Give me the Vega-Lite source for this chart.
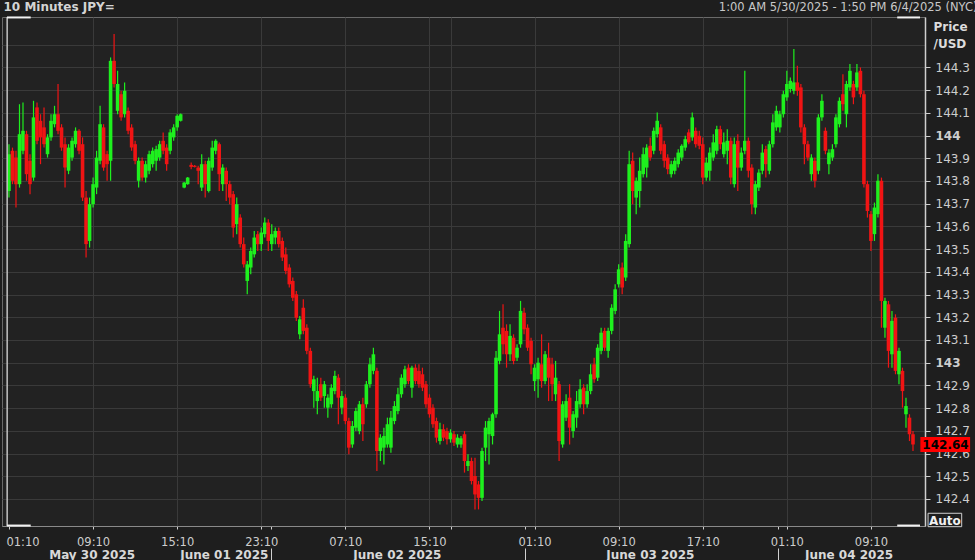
{
"$schema": "https://vega.github.io/schema/vega-lite/v6.json",
"width": 923, "height": 509,
"autosize": {"type": "none"},
"padding": {"left": 2, "top": 17, "right": 50, "bottom": 34},
"background": "#1e1e1e",
"config": {
  "view": {"fill": "#222222", "stroke": "#6a6a6a", "strokeWidth": 1},
  "axis": {"labelOverlap": false, "labelBound": false, "labelFlush": false}
},
"datasets": {"one": [{}]},
"data": {"values": [
{"i":0,"o":143.756,"h":143.962,"l":143.727,"c":143.918},
{"i":1,"o":143.933,"h":143.947,"l":143.786,"c":143.801},
{"i":2,"o":143.903,"h":143.933,"l":143.683,"c":143.786},
{"i":3,"o":143.786,"h":144.138,"l":143.771,"c":144.006},
{"i":4,"o":143.933,"h":144.146,"l":143.918,"c":144.021},
{"i":5,"o":144.006,"h":144.021,"l":143.801,"c":143.830},
{"i":6,"o":143.889,"h":143.918,"l":143.742,"c":143.786},
{"i":7,"o":143.815,"h":144.153,"l":143.801,"c":144.080},
{"i":8,"o":144.124,"h":144.146,"l":143.962,"c":143.977},
{"i":9,"o":144.065,"h":144.094,"l":143.874,"c":143.992},
{"i":10,"o":144.036,"h":144.124,"l":143.947,"c":143.962},
{"i":11,"o":143.918,"h":144.006,"l":143.903,"c":143.992},
{"i":12,"o":143.992,"h":144.094,"l":143.977,"c":144.065},
{"i":13,"o":144.050,"h":144.131,"l":144.036,"c":144.094},
{"i":14,"o":144.094,"h":144.227,"l":144.006,"c":144.021},
{"i":15,"o":144.036,"h":144.050,"l":143.933,"c":143.947},
{"i":16,"o":143.962,"h":143.992,"l":143.771,"c":143.859},
{"i":17,"o":143.845,"h":143.962,"l":143.830,"c":143.947},
{"i":18,"o":143.903,"h":143.992,"l":143.889,"c":143.977},
{"i":19,"o":143.962,"h":144.036,"l":143.947,"c":144.021},
{"i":20,"o":144.021,"h":144.028,"l":143.918,"c":143.933},
{"i":21,"o":143.962,"h":143.992,"l":143.712,"c":143.727},
{"i":22,"o":143.727,"h":143.756,"l":143.463,"c":143.522},
{"i":23,"o":143.536,"h":143.727,"l":143.507,"c":143.698},
{"i":24,"o":143.698,"h":143.815,"l":143.683,"c":143.786},
{"i":25,"o":143.771,"h":143.933,"l":143.742,"c":143.903},
{"i":26,"o":143.889,"h":144.131,"l":143.874,"c":144.050},
{"i":27,"o":144.036,"h":144.050,"l":143.845,"c":143.859},
{"i":28,"o":143.918,"h":143.933,"l":143.801,"c":143.874},
{"i":29,"o":143.889,"h":144.344,"l":143.801,"c":144.329},
{"i":30,"o":144.329,"h":144.447,"l":144.212,"c":144.227},
{"i":31,"o":144.109,"h":144.285,"l":144.094,"c":144.227},
{"i":32,"o":144.182,"h":144.197,"l":144.065,"c":144.080},
{"i":33,"o":144.094,"h":144.234,"l":144.080,"c":144.197},
{"i":34,"o":144.109,"h":144.124,"l":144.006,"c":144.021},
{"i":35,"o":144.036,"h":144.050,"l":143.933,"c":143.947},
{"i":36,"o":143.962,"h":143.977,"l":143.874,"c":143.889},
{"i":37,"o":143.801,"h":143.903,"l":143.771,"c":143.889},
{"i":38,"o":143.889,"h":143.903,"l":143.801,"c":143.815},
{"i":39,"o":143.815,"h":143.889,"l":143.793,"c":143.874},
{"i":40,"o":143.845,"h":143.933,"l":143.830,"c":143.918},
{"i":41,"o":143.874,"h":143.947,"l":143.859,"c":143.933},
{"i":42,"o":143.889,"h":143.955,"l":143.845,"c":143.940},
{"i":43,"o":143.903,"h":143.977,"l":143.889,"c":143.962},
{"i":44,"o":143.977,"h":144.014,"l":143.918,"c":143.933},
{"i":45,"o":143.947,"h":143.962,"l":143.845,"c":143.874},
{"i":46,"o":143.933,"h":144.028,"l":143.918,"c":144.014},
{"i":47,"o":143.992,"h":144.050,"l":143.977,"c":144.036},
{"i":48,"o":144.036,"h":144.094,"l":144.021,"c":144.087},
{"i":49,"o":144.065,"h":144.097,"l":144.062,"c":144.094},
{"i":50,"o":143.771,"h":143.796,"l":143.768,"c":143.793},
{"i":51,"o":143.786,"h":143.818,"l":143.783,"c":143.815},
{"i":52,"o":143.871,"h":143.881,"l":143.852,"c":143.862},
{"i":53,"o":143.867,"h":143.870,"l":143.859,"c":143.862},
{"i":54,"o":143.859,"h":143.867,"l":143.786,"c":143.845},
{"i":55,"o":143.771,"h":143.918,"l":143.756,"c":143.874},
{"i":56,"o":143.874,"h":143.889,"l":143.727,"c":143.786},
{"i":57,"o":143.756,"h":143.903,"l":143.749,"c":143.889},
{"i":58,"o":143.859,"h":143.977,"l":143.845,"c":143.947},
{"i":59,"o":143.933,"h":143.984,"l":143.918,"c":143.977},
{"i":60,"o":143.962,"h":143.970,"l":143.756,"c":143.830},
{"i":61,"o":143.786,"h":143.874,"l":143.756,"c":143.859},
{"i":62,"o":143.845,"h":143.859,"l":143.712,"c":143.786},
{"i":63,"o":143.786,"h":143.801,"l":143.698,"c":143.727},
{"i":64,"o":143.742,"h":143.756,"l":143.551,"c":143.595},
{"i":65,"o":143.610,"h":143.727,"l":143.566,"c":143.698},
{"i":66,"o":143.639,"h":143.654,"l":143.507,"c":143.522},
{"i":67,"o":143.522,"h":143.551,"l":143.419,"c":143.433},
{"i":68,"o":143.360,"h":143.448,"l":143.301,"c":143.433},
{"i":69,"o":143.419,"h":143.507,"l":143.389,"c":143.492},
{"i":70,"o":143.477,"h":143.580,"l":143.463,"c":143.551},
{"i":71,"o":143.566,"h":143.580,"l":143.492,"c":143.522},
{"i":72,"o":143.522,"h":143.595,"l":143.492,"c":143.573},
{"i":73,"o":143.566,"h":143.639,"l":143.551,"c":143.617},
{"i":74,"o":143.617,"h":143.632,"l":143.492,"c":143.536},
{"i":75,"o":143.522,"h":143.610,"l":143.492,"c":143.566},
{"i":76,"o":143.551,"h":143.595,"l":143.522,"c":143.580},
{"i":77,"o":143.580,"h":143.595,"l":143.507,"c":143.522},
{"i":78,"o":143.536,"h":143.551,"l":143.448,"c":143.463},
{"i":79,"o":143.477,"h":143.507,"l":143.389,"c":143.404},
{"i":80,"o":143.419,"h":143.433,"l":143.331,"c":143.345},
{"i":81,"o":143.360,"h":143.375,"l":143.272,"c":143.286},
{"i":82,"o":143.301,"h":143.316,"l":143.184,"c":143.198},
{"i":83,"o":143.125,"h":143.206,"l":143.103,"c":143.191},
{"i":84,"o":143.242,"h":143.279,"l":143.125,"c":143.140},
{"i":85,"o":143.154,"h":143.169,"l":143.037,"c":143.052},
{"i":86,"o":143.052,"h":143.066,"l":142.890,"c":142.905},
{"i":87,"o":142.875,"h":142.942,"l":142.802,"c":142.927},
{"i":88,"o":142.831,"h":142.934,"l":142.773,"c":142.875},
{"i":89,"o":142.905,"h":142.934,"l":142.831,"c":142.846},
{"i":90,"o":142.853,"h":142.919,"l":142.802,"c":142.905},
{"i":91,"o":142.802,"h":142.861,"l":142.758,"c":142.846},
{"i":92,"o":142.817,"h":142.905,"l":142.802,"c":142.890},
{"i":93,"o":142.875,"h":142.964,"l":142.861,"c":142.942},
{"i":94,"o":142.934,"h":142.949,"l":142.729,"c":142.846},
{"i":95,"o":142.802,"h":142.875,"l":142.773,"c":142.853},
{"i":96,"o":142.846,"h":142.861,"l":142.729,"c":142.743},
{"i":97,"o":142.743,"h":142.758,"l":142.597,"c":142.626},
{"i":98,"o":142.640,"h":142.743,"l":142.626,"c":142.721},
{"i":99,"o":142.714,"h":142.802,"l":142.699,"c":142.787},
{"i":100,"o":142.699,"h":142.831,"l":142.685,"c":142.817},
{"i":101,"o":142.817,"h":142.846,"l":142.655,"c":142.729},
{"i":102,"o":142.817,"h":142.919,"l":142.802,"c":142.905},
{"i":103,"o":142.905,"h":143.022,"l":142.890,"c":142.993},
{"i":104,"o":142.964,"h":143.066,"l":142.949,"c":143.037},
{"i":105,"o":142.964,"h":142.978,"l":142.523,"c":142.611},
{"i":106,"o":142.611,"h":142.685,"l":142.567,"c":142.670},
{"i":107,"o":142.626,"h":142.714,"l":142.552,"c":142.677},
{"i":108,"o":142.640,"h":142.758,"l":142.626,"c":142.729},
{"i":109,"o":142.626,"h":142.787,"l":142.604,"c":142.758},
{"i":110,"o":142.743,"h":142.831,"l":142.729,"c":142.809},
{"i":111,"o":142.787,"h":142.890,"l":142.773,"c":142.861},
{"i":112,"o":142.861,"h":142.949,"l":142.846,"c":142.934},
{"i":113,"o":142.905,"h":142.986,"l":142.890,"c":142.971},
{"i":114,"o":142.978,"h":142.993,"l":142.905,"c":142.919},
{"i":115,"o":142.890,"h":142.986,"l":142.846,"c":142.978},
{"i":116,"o":142.978,"h":142.993,"l":142.905,"c":142.919},
{"i":117,"o":142.964,"h":142.993,"l":142.890,"c":142.905},
{"i":118,"o":142.949,"h":142.978,"l":142.875,"c":142.890},
{"i":119,"o":142.905,"h":142.919,"l":142.802,"c":142.817},
{"i":120,"o":142.846,"h":142.861,"l":142.758,"c":142.773},
{"i":121,"o":142.802,"h":142.817,"l":142.714,"c":142.729},
{"i":122,"o":142.743,"h":142.758,"l":142.648,"c":142.670},
{"i":123,"o":142.655,"h":142.736,"l":142.640,"c":142.707},
{"i":124,"o":142.707,"h":142.729,"l":142.655,"c":142.670},
{"i":125,"o":142.699,"h":142.714,"l":142.640,"c":142.663},
{"i":126,"o":142.663,"h":142.707,"l":142.648,"c":142.692},
{"i":127,"o":142.685,"h":142.699,"l":142.633,"c":142.648},
{"i":128,"o":142.640,"h":142.685,"l":142.626,"c":142.670},
{"i":129,"o":142.640,"h":142.677,"l":142.626,"c":142.667},
{"i":130,"o":142.685,"h":142.699,"l":142.516,"c":142.567},
{"i":131,"o":142.545,"h":142.597,"l":142.523,"c":142.567},
{"i":132,"o":142.567,"h":142.582,"l":142.464,"c":142.479},
{"i":133,"o":142.501,"h":142.582,"l":142.354,"c":142.420},
{"i":134,"o":142.464,"h":142.479,"l":142.354,"c":142.405},
{"i":135,"o":142.405,"h":142.626,"l":142.391,"c":142.611},
{"i":136,"o":142.626,"h":142.743,"l":142.567,"c":142.714},
{"i":137,"o":142.685,"h":142.758,"l":142.552,"c":142.743},
{"i":138,"o":142.677,"h":142.780,"l":142.640,"c":142.773},
{"i":139,"o":142.773,"h":143.052,"l":142.758,"c":143.022},
{"i":140,"o":143.008,"h":143.228,"l":142.993,"c":143.125},
{"i":141,"o":143.154,"h":143.257,"l":143.037,"c":143.081},
{"i":142,"o":143.140,"h":143.169,"l":142.978,"c":143.037},
{"i":143,"o":143.037,"h":143.169,"l":143.008,"c":143.118},
{"i":144,"o":143.110,"h":143.125,"l":142.993,"c":143.008},
{"i":145,"o":143.022,"h":143.081,"l":143.008,"c":143.066},
{"i":146,"o":143.081,"h":143.272,"l":143.066,"c":143.228},
{"i":147,"o":143.220,"h":143.242,"l":143.125,"c":143.147},
{"i":148,"o":143.154,"h":143.169,"l":143.052,"c":143.066},
{"i":149,"o":143.096,"h":143.110,"l":142.949,"c":142.993},
{"i":150,"o":142.919,"h":142.993,"l":142.875,"c":142.978},
{"i":151,"o":142.927,"h":143.022,"l":142.846,"c":143.000},
{"i":152,"o":142.993,"h":143.125,"l":142.890,"c":142.919},
{"i":153,"o":142.919,"h":143.052,"l":142.905,"c":143.037},
{"i":154,"o":143.022,"h":143.088,"l":142.831,"c":142.934},
{"i":155,"o":142.993,"h":143.022,"l":142.831,"c":142.905},
{"i":156,"o":142.861,"h":143.008,"l":142.831,"c":142.934},
{"i":157,"o":142.905,"h":142.919,"l":142.567,"c":142.655},
{"i":158,"o":142.640,"h":142.831,"l":142.626,"c":142.817},
{"i":159,"o":142.758,"h":142.861,"l":142.743,"c":142.831},
{"i":160,"o":142.846,"h":142.905,"l":142.640,"c":142.714},
{"i":161,"o":142.699,"h":142.787,"l":142.670,"c":142.773},
{"i":162,"o":142.758,"h":142.875,"l":142.714,"c":142.831},
{"i":163,"o":142.817,"h":142.927,"l":142.802,"c":142.883},
{"i":164,"o":142.890,"h":142.905,"l":142.773,"c":142.817},
{"i":165,"o":142.817,"h":142.905,"l":142.802,"c":142.875},
{"i":166,"o":142.875,"h":142.993,"l":142.861,"c":142.949},
{"i":167,"o":142.993,"h":143.022,"l":142.912,"c":142.927},
{"i":168,"o":142.934,"h":143.081,"l":142.919,"c":143.066},
{"i":169,"o":143.052,"h":143.154,"l":143.037,"c":143.132},
{"i":170,"o":143.140,"h":143.154,"l":143.052,"c":143.066},
{"i":171,"o":143.052,"h":143.154,"l":143.022,"c":143.140},
{"i":172,"o":143.140,"h":143.257,"l":143.125,"c":143.242},
{"i":173,"o":143.228,"h":143.345,"l":143.213,"c":143.323},
{"i":174,"o":143.345,"h":143.433,"l":143.331,"c":143.411},
{"i":175,"o":143.419,"h":143.441,"l":143.301,"c":143.331},
{"i":176,"o":143.375,"h":143.566,"l":143.360,"c":143.536},
{"i":177,"o":143.522,"h":143.933,"l":143.507,"c":143.874},
{"i":178,"o":143.889,"h":143.925,"l":143.698,"c":143.756},
{"i":179,"o":143.727,"h":143.815,"l":143.654,"c":143.801},
{"i":180,"o":143.756,"h":143.903,"l":143.683,"c":143.845},
{"i":181,"o":143.830,"h":143.947,"l":143.815,"c":143.918},
{"i":182,"o":143.859,"h":143.962,"l":143.815,"c":143.947},
{"i":183,"o":143.955,"h":143.992,"l":143.889,"c":143.903},
{"i":184,"o":143.933,"h":144.036,"l":143.918,"c":144.021},
{"i":185,"o":144.006,"h":144.102,"l":143.992,"c":144.065},
{"i":186,"o":144.036,"h":144.050,"l":143.918,"c":143.933},
{"i":187,"o":143.962,"h":143.977,"l":143.859,"c":143.889},
{"i":188,"o":143.903,"h":143.918,"l":143.830,"c":143.852},
{"i":189,"o":143.830,"h":143.889,"l":143.815,"c":143.874},
{"i":190,"o":143.845,"h":143.903,"l":143.830,"c":143.889},
{"i":191,"o":143.874,"h":143.940,"l":143.859,"c":143.925},
{"i":192,"o":143.903,"h":143.962,"l":143.889,"c":143.955},
{"i":193,"o":143.947,"h":143.999,"l":143.933,"c":143.984},
{"i":194,"o":144.014,"h":144.028,"l":143.962,"c":143.970},
{"i":195,"o":143.992,"h":144.102,"l":143.977,"c":144.080},
{"i":196,"o":144.021,"h":144.036,"l":143.947,"c":143.962},
{"i":197,"o":143.999,"h":144.021,"l":143.940,"c":143.955},
{"i":198,"o":143.962,"h":143.992,"l":143.786,"c":143.815},
{"i":199,"o":143.815,"h":143.903,"l":143.801,"c":143.881},
{"i":200,"o":143.845,"h":143.947,"l":143.801,"c":143.925},
{"i":201,"o":143.903,"h":144.006,"l":143.889,"c":143.970},
{"i":202,"o":143.933,"h":144.043,"l":143.918,"c":144.028},
{"i":203,"o":144.028,"h":144.043,"l":143.940,"c":143.962},
{"i":204,"o":143.918,"h":144.014,"l":143.903,"c":143.970},
{"i":205,"o":143.933,"h":144.028,"l":143.874,"c":143.977},
{"i":206,"o":143.977,"h":143.992,"l":143.786,"c":143.815},
{"i":207,"o":143.786,"h":143.992,"l":143.771,"c":143.962},
{"i":208,"o":143.977,"h":144.006,"l":143.756,"c":143.859},
{"i":209,"o":143.859,"h":143.947,"l":143.845,"c":143.925},
{"i":210,"o":143.933,"h":144.285,"l":143.918,"c":143.977},
{"i":211,"o":143.977,"h":143.992,"l":143.815,"c":143.845},
{"i":212,"o":143.859,"h":143.874,"l":143.654,"c":143.698},
{"i":213,"o":143.683,"h":143.801,"l":143.654,"c":143.786},
{"i":214,"o":143.771,"h":143.852,"l":143.756,"c":143.837},
{"i":215,"o":143.845,"h":143.962,"l":143.830,"c":143.925},
{"i":216,"o":143.940,"h":143.955,"l":143.815,"c":143.874},
{"i":217,"o":143.845,"h":143.977,"l":143.830,"c":143.962},
{"i":218,"o":143.962,"h":144.094,"l":143.947,"c":144.058},
{"i":219,"o":144.036,"h":144.131,"l":144.021,"c":144.109},
{"i":220,"o":144.036,"h":144.109,"l":144.014,"c":144.094},
{"i":221,"o":144.094,"h":144.197,"l":144.080,"c":144.182},
{"i":222,"o":144.168,"h":144.285,"l":144.153,"c":144.227},
{"i":223,"o":144.205,"h":144.256,"l":144.190,"c":144.241},
{"i":224,"o":144.197,"h":144.381,"l":144.182,"c":144.234},
{"i":225,"o":144.234,"h":144.307,"l":144.175,"c":144.197},
{"i":226,"o":144.212,"h":144.227,"l":144.014,"c":144.036},
{"i":227,"o":144.036,"h":144.050,"l":143.874,"c":143.962},
{"i":228,"o":143.962,"h":143.977,"l":143.889,"c":143.903},
{"i":229,"o":143.830,"h":143.918,"l":143.801,"c":143.903},
{"i":230,"o":143.889,"h":143.903,"l":143.771,"c":143.801},
{"i":231,"o":143.845,"h":144.094,"l":143.830,"c":144.080},
{"i":232,"o":144.080,"h":144.182,"l":144.065,"c":144.153},
{"i":233,"o":144.021,"h":144.036,"l":143.918,"c":143.933},
{"i":234,"o":143.874,"h":143.940,"l":143.830,"c":143.925},
{"i":235,"o":143.903,"h":143.962,"l":143.889,"c":143.940},
{"i":236,"o":143.962,"h":144.094,"l":143.947,"c":144.080},
{"i":237,"o":144.050,"h":144.168,"l":144.036,"c":144.153},
{"i":238,"o":144.182,"h":144.270,"l":144.109,"c":144.138},
{"i":239,"o":144.094,"h":144.241,"l":144.036,"c":144.227},
{"i":240,"o":144.212,"h":144.315,"l":144.197,"c":144.285},
{"i":241,"o":144.227,"h":144.241,"l":144.138,"c":144.168},
{"i":242,"o":144.212,"h":144.315,"l":144.197,"c":144.278},
{"i":243,"o":144.285,"h":144.300,"l":144.168,"c":144.182},
{"i":244,"o":144.182,"h":144.197,"l":143.771,"c":143.786},
{"i":245,"o":143.786,"h":143.801,"l":143.639,"c":143.668},
{"i":246,"o":143.654,"h":143.668,"l":143.492,"c":143.536},
{"i":247,"o":143.566,"h":143.705,"l":143.536,"c":143.683},
{"i":248,"o":143.654,"h":143.830,"l":143.639,"c":143.801},
{"i":249,"o":143.801,"h":143.815,"l":143.154,"c":143.272},
{"i":250,"o":143.154,"h":143.286,"l":143.110,"c":143.272},
{"i":251,"o":143.257,"h":143.272,"l":142.978,"c":143.052},
{"i":252,"o":143.037,"h":143.228,"l":142.978,"c":143.184},
{"i":253,"o":143.198,"h":143.213,"l":142.949,"c":142.964},
{"i":254,"o":142.949,"h":143.066,"l":142.905,"c":143.052},
{"i":255,"o":142.964,"h":142.978,"l":142.802,"c":142.875},
{"i":256,"o":142.773,"h":142.846,"l":142.714,"c":142.809},
{"i":257,"o":142.758,"h":142.773,"l":142.655,"c":142.685},
{"i":258,"o":142.685,"h":142.699,"l":142.611,"c":142.640}
]},
"layer": [
  {
    "mark": {"type": "rule", "strokeWidth": 1.2},
    "encoding": {
      "x": {"field": "i", "type": "quantitative",
        "scale": {"domain": [-0.565, 260.0], "nice": false, "zero": false},
        "axis": {
          "orient": "bottom", "title": null,
          "values": [0, 24, 48, 72, 74.8, 96, 120, 126.2, 147.4, 150, 174, 198, 219.4, 222, 246],
          "labelExpr": "indexof([0,24,48,72,96,120,150,174,198,222,246], datum.value) >= 0 ? ['01:10','09:10','15:10','23:10','07:10','15:10','01:10','09:10','17:10','01:10','09:10'][indexof([0,24,48,72,96,120,150,174,198,222,246], datum.value)] : ''",
          "labelFont": "DejaVu Sans", "labelFontSize": 11.5, "labelColor": "#cdcdcd",
          "labelBaseline": "alphabetic", "labelPadding": 16,
          "labelAlign": {"condition": {"test": "datum.value == 0", "value": "left"}, "value": "center"},
          "labelOffset": {"condition": {"test": "datum.value == 0", "value": -3}, "value": 0},
          "ticks": true, "tickSize": 3, "tickColor": "#cfcfcf",
          "domain": true, "domainColor": "#8a8a8a",
          "grid": true, "gridColor": "#3a3a3a",
          "gridOpacity": {"condition": {"test": "datum.value == 0 || datum.value == 74.8 || datum.value == 147.4 || datum.value == 219.4", "value": 0}, "value": 1}
        }
      },
      "y": {"field": "l", "type": "quantitative",
        "scale": {"domain": [142.281, 144.522], "nice": false, "zero": false},
        "axis": {
          "orient": "right",
          "values": [142.4, 142.5, 142.6, 142.7, 142.8, 142.9, 143, 143.1, 143.2, 143.3, 143.4, 143.5, 143.6, 143.7, 143.8, 143.9, 144, 144.1, 144.2, 144.3, 144.4],
          "labelExpr": "datum.value > 144.35 ? '' : format(datum.value, '.4~r')",
          "labelFont": "DejaVu Sans", "labelFontSize": 12, "labelColor": "#cdcdcd",
          "labelFontWeight": {"condition": {"test": "datum.value == 144 || datum.value == 143", "value": "bold"}, "value": "normal"},
          "labelAlign": "left", "labelBaseline": "middle", "labelPadding": 5,
          "tickSize": 5, "tickColor": "#cfcfcf",
          "tickOpacity": {"condition": {"test": "datum.value > 144.35", "value": 0}, "value": 1},
          "domainColor": "#cfcfcf", "domainWidth": 1.5,
          "grid": true, "gridColor": "#3a3a3a",
          "title": ["Price", "/USD"], "titleAngle": 0, "titleAlign": "left", "titleBaseline": "alphabetic",
          "titleX": 8, "titleY": 13.5, "titleLineHeight": 16.5,
          "titleFont": "DejaVu Sans", "titleFontSize": 12, "titleFontWeight": "bold", "titleColor": "#dcdcdc"
        }
      },
      "y2": {"field": "h"},
      "color": {"condition": {"test": "datum.c >= datum.o", "value": "#1ef01e"}, "value": "#f01414"}
    }
  },
  {
    "mark": {"type": "bar", "width": 3.6, "orient": "vertical"},
    "encoding": {
      "x": {"field": "i", "type": "quantitative", "axis": null},
      "y": {"field": "o", "type": "quantitative", "axis": null},
      "y2": {"field": "c"},
      "color": {"condition": {"test": "datum.c >= datum.o", "value": "#1ef01e"}, "value": "#f01414"}
    }
  },
  {
    "data": {"name": "one"},
    "mark": {"type": "rule", "opacity": 0},
    "encoding": {
      "x": {"datum": 0, "type": "quantitative",
        "axis": {
          "orient": "bottom", "title": null, "offset": 0,
          "values": [23.6, 61.3, 110.7, 182.9, 239.6],
          "labelExpr": "['May 30 2025','June 01 2025','June 02 2025','June 03 2025','June 04 2025'][indexof([23.6,61.3,110.7,182.9,239.6], datum.value)]",
          "labelFont": "DejaVu Sans", "labelFontSize": 12, "labelFontWeight": "bold", "labelColor": "#d8d8d8",
          "labelBaseline": "alphabetic", "labelPadding": 32, "labelAlign": "center",
          "ticks": false, "tickSize": 0, "domain": false, "grid": false
        }
      }
    }
  },
  {
    "data": {"name": "one"},
    "mark": {"type": "rule", "opacity": 0},
    "encoding": {
      "x": {"datum": 0, "type": "quantitative",
        "axis": {
          "orient": "bottom", "title": null, "offset": 22,
          "values": [74.8, 147.4, 219.4],
          "labels": false, "ticks": true, "tickSize": 14, "tickColor": "#d0d0d0",
          "domain": false, "grid": false
        }
      }
    }
  },
  {
    "data": {"name": "one"},
    "mark": {"type": "rule", "opacity": 0},
    "encoding": {
      "x": {"datum": 0, "type": "quantitative",
        "axis": {
          "orient": "top", "labels": false, "ticks": false, "domain": false, "grid": false,
          "title": "1:00 AM 5/30/2025 - 1:50 PM 6/4/2025 (NYC)",
          "titleAlign": "right", "titleAnchor": "end", "titleBaseline": "alphabetic",
          "titleX": 975, "titleY": -7,
          "titleFont": "DejaVu Sans", "titleFontSize": 11.5, "titleFontWeight": "normal", "titleColor": "#c8c8c8"
        }
      }
    }
  },
  {
    "data": {"name": "one"},
    "mark": {"type": "rule", "opacity": 0},
    "encoding": {
      "x": {"datum": 0, "type": "quantitative",
        "axis": {
          "orient": "top", "labels": false, "ticks": false, "domain": false, "grid": false,
          "title": "10 Minutes JPY=",
          "titleAlign": "left", "titleAnchor": "start", "titleBaseline": "alphabetic",
          "titleX": 1, "titleY": -6.5,
          "titleFont": "DejaVu Sans", "titleFontSize": 12, "titleFontWeight": "bold", "titleColor": "#d4d4d4"
        }
      }
    }
  },
  {
    "data": {"name": "one"},
    "mark": {"type": "rule", "color": "#c4c4c4", "strokeWidth": 1.5},
    "encoding": {"x": {"datum": -0.52, "type": "quantitative", "axis": null}}
  },
  {
    "data": {"name": "one"},
    "mark": {"type": "rule", "color": "#f2f2f2", "strokeWidth": 2},
    "encoding": {"x": {"datum": -0.565, "type": "quantitative", "axis": null}, "x2": {"datum": 6.2}, "y": {"datum": 144.52, "type": "quantitative", "axis": null}}
  },
  {
    "data": {"name": "one"},
    "mark": {"type": "rule", "color": "#f2f2f2", "strokeWidth": 2},
    "encoding": {"x": {"datum": -0.565, "type": "quantitative", "axis": null}, "x2": {"datum": 6.2}, "y": {"datum": 142.283, "type": "quantitative", "axis": null}}
  },
  {
    "data": {"name": "one"},
    "mark": {"type": "rule", "color": "#f2f2f2", "strokeWidth": 2},
    "encoding": {"x": {"datum": 253.5, "type": "quantitative", "axis": null}, "x2": {"datum": 260.0}, "y": {"datum": 144.52, "type": "quantitative", "axis": null}}
  },
  {
    "data": {"name": "one"},
    "mark": {"type": "rule", "color": "#f2f2f2", "strokeWidth": 2},
    "encoding": {"x": {"datum": 253.5, "type": "quantitative", "axis": null}, "x2": {"datum": 260.0}, "y": {"datum": 142.283, "type": "quantitative", "axis": null}}
  },
  {
    "data": {"name": "one"},
    "mark": {"type": "rule", "color": "#ff0000", "strokeWidth": 15},
    "encoding": {"x": {"datum": 260.1, "type": "quantitative", "axis": null}, "x2": {"datum": 274.3}, "y": {"datum": 142.64, "type": "quantitative", "axis": null}}
  },
  {
    "data": {"name": "one"},
    "mark": {"type": "text", "text": "142.64", "align": "left", "baseline": "middle", "font": "DejaVu Sans", "fontSize": 12, "fontWeight": "bold", "color": "#000000", "dx": 2, "dy": 1},
    "encoding": {"x": {"datum": 260.1, "type": "quantitative", "axis": null}, "y": {"datum": 142.64, "type": "quantitative", "axis": null}}
  },
  {
    "data": {"name": "one"},
    "mark": {"type": "rect", "fill": "#1e1e1e", "stroke": "#d0d0d0", "strokeWidth": 1},
    "encoding": {"x": {"datum": 262.3, "type": "quantitative", "axis": null}, "x2": {"datum": 271.9}, "y": {"datum": 142.337, "type": "quantitative", "axis": null}, "y2": {"datum": 142.278}}
  },
  {
    "data": {"name": "one"},
    "mark": {"type": "text", "text": "Auto", "align": "center", "baseline": "middle", "font": "DejaVu Sans", "fontSize": 12, "fontWeight": "bold", "color": "#f0f0f0", "dy": 1},
    "encoding": {"x": {"datum": 267.1, "type": "quantitative", "axis": null}, "y": {"datum": 142.308, "type": "quantitative", "axis": null}}
  }
],
"resolve": {"axis": {"x": "independent", "y": "independent"}}
}
